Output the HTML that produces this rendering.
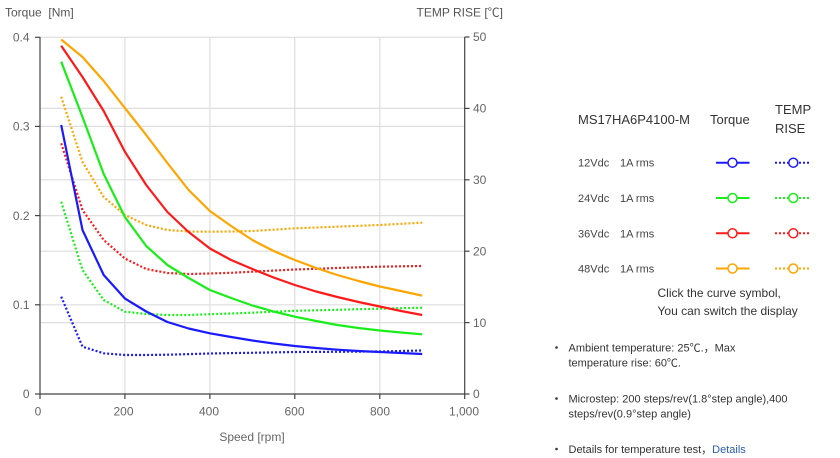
<!DOCTYPE html>
<html><head><meta charset="utf-8">
<style>
html,body{margin:0;padding:0;background:#fff;}
svg{display:block;}
text{font-family:"Liberation Sans","Noto Sans CJK SC",sans-serif;}
</style></head>
<body>
<svg width="840" height="458" viewBox="0 0 840 458" xmlns="http://www.w3.org/2000/svg">
<rect width="840" height="458" fill="#fff"/>
<!-- grid -->
<g stroke="#dedede" stroke-width="1.2" fill="none">
<line x1="40" y1="304.8" x2="464.7" y2="304.8"/>
<line x1="40" y1="215.6" x2="464.7" y2="215.6"/>
<line x1="40" y1="126.4" x2="464.7" y2="126.4"/>
<line x1="40" y1="37.3" x2="464.7" y2="37.3"/>
<line x1="40" y1="322.6" x2="464.7" y2="322.6"/>
<line x1="40" y1="251.2" x2="464.7" y2="251.2"/>
<line x1="40" y1="179.8" x2="464.7" y2="179.8"/>
<line x1="40" y1="108.4" x2="464.7" y2="108.4"/>
<line x1="124.9" y1="37" x2="124.9" y2="394"/>
<line x1="209.9" y1="37" x2="209.9" y2="394"/>
<line x1="294.8" y1="37" x2="294.8" y2="394"/>
<line x1="379.8" y1="37" x2="379.8" y2="394"/>
</g>
<!-- axes -->
<g stroke="#444" stroke-width="1.2" fill="none">
<line x1="40" y1="37" x2="40" y2="394"/>
<line x1="464.7" y1="37" x2="464.7" y2="394"/>
<line x1="40" y1="394" x2="464.7" y2="394"/>
<line x1="35" y1="394" x2="40" y2="394"/>
<line x1="35" y1="304.8" x2="40" y2="304.8"/>
<line x1="35" y1="215.6" x2="40" y2="215.6"/>
<line x1="35" y1="126.4" x2="40" y2="126.4"/>
<line x1="35" y1="37.3" x2="40" y2="37.3"/>
<line x1="464.7" y1="394" x2="469.5" y2="394"/>
<line x1="464.7" y1="322.6" x2="469.5" y2="322.6"/>
<line x1="464.7" y1="251.2" x2="469.5" y2="251.2"/>
<line x1="464.7" y1="179.8" x2="469.5" y2="179.8"/>
<line x1="464.7" y1="108.4" x2="469.5" y2="108.4"/>
<line x1="464.7" y1="37" x2="469.5" y2="37"/>
<line x1="40" y1="394" x2="40" y2="399"/>
<line x1="124.9" y1="394" x2="124.9" y2="399"/>
<line x1="209.9" y1="394" x2="209.9" y2="399"/>
<line x1="294.8" y1="394" x2="294.8" y2="399"/>
<line x1="379.8" y1="394" x2="379.8" y2="399"/>
<line x1="464.7" y1="394" x2="464.7" y2="399"/>
</g>
<!-- tick labels -->
<g font-size="12" fill="#666">
<text x="29.5" y="41.5" text-anchor="end">0.4</text>
<text x="29.5" y="130.6" text-anchor="end">0.3</text>
<text x="29.5" y="219.8" text-anchor="end">0.2</text>
<text x="29.5" y="309" text-anchor="end">0.1</text>
<text x="29.5" y="398.2" text-anchor="end">0</text>
<text x="473" y="41.2">50</text>
<text x="473" y="112.6">40</text>
<text x="473" y="184">30</text>
<text x="473" y="255.4">20</text>
<text x="473" y="326.8">10</text>
<text x="473" y="398.2">0</text>
<text x="38" y="415.5" text-anchor="middle">0</text>
<text x="123.5" y="415.5" text-anchor="middle">200</text>
<text x="209" y="415.5" text-anchor="middle">400</text>
<text x="294.5" y="415.5" text-anchor="middle">600</text>
<text x="380" y="415.5" text-anchor="middle">800</text>
<text x="464" y="415.5" text-anchor="middle">1,000</text>
<text x="252" y="441" text-anchor="middle">Speed [rpm]</text>
<text x="5" y="16.5" fill="#555">Torque&#160;&#160;[Nm]</text>
<text x="503" y="16.5" text-anchor="end" fill="#555">TEMP RISE [℃]</text>
</g>
<!-- series: dotted temp -->
<g fill="none" stroke-width="2.2" stroke-dasharray="2 2" stroke-linejoin="round">
<polyline stroke="#ffa500" points="61.2,96.7 82.5,162 103.7,197 124.9,215 146.2,225 167.4,230 188.6,231.5 209.9,231.7 231.1,231.5 252.4,231 273.6,229.7 294.8,228.3 316.1,227.5 337.3,226.7 358.5,225.8 379.8,225 401,223.8 422.2,222.7"/>
<polyline stroke="#ff1a1a" points="61.2,143.3 82.5,210 103.7,240 124.9,258.5 146.2,269 167.4,273 188.6,274 209.9,273.5 231.1,272.8 252.4,271.7 273.6,270.6 294.8,269.5 316.1,268.8 337.3,268 358.5,267.3 379.8,266.7 401,266.3 422.2,266"/>
<polyline stroke="#1aee1a" points="61.2,201.7 82.5,270 103.7,300 124.9,311.7 146.2,314 167.4,315 188.6,315 209.9,314.2 231.1,313.5 252.4,312.7 273.6,311.7 294.8,310.8 316.1,310.3 337.3,309.8 358.5,309.2 379.8,308.7 401,308.2 422.2,307.7"/>
<polyline stroke="#1a1aff" points="61.2,296.7 82.5,346.7 103.7,353.3 124.9,355 146.2,355 167.4,354.7 188.6,354.1 209.9,353.5 231.1,353.1 252.4,352.8 273.6,352.4 294.8,352 316.1,351.9 337.3,351.8 358.5,351.6 379.8,351.5 401,351 422.2,350.5"/>
</g>
<!-- series: solid torque -->
<g fill="none" stroke-width="2.2" stroke-linejoin="round">
<polyline stroke="#ffa500" points="61.2,39.5 82.5,57 103.7,81 124.9,108 146.2,135 167.4,163 188.6,190 209.9,211 231.1,226 252.4,240 273.6,251 294.8,260 316.1,268 337.3,275 358.5,281 379.8,286.5 401,291 422.2,295.7"/>
<polyline stroke="#ff1a1a" points="61.2,45.7 82.5,77 103.7,111 124.9,151.7 146.2,185 167.4,212 188.6,232 209.9,248.5 231.1,260 252.4,269 273.6,277.5 294.8,285 316.1,291.5 337.3,297 358.5,302 379.8,306.5 401,311 422.2,315"/>
<polyline stroke="#1aee1a" points="61.2,61.7 82.5,117 103.7,174 124.9,217 146.2,246 167.4,265 188.6,278 209.9,290 231.1,298 252.4,305.5 273.6,311.5 294.8,316.7 316.1,321 337.3,325 358.5,328 379.8,330.5 401,332.5 422.2,334.3"/>
<polyline stroke="#1a1aff" points="61.2,125 82.5,230 103.7,275 124.9,298.5 146.2,311.5 167.4,322 188.6,328.5 209.9,333.3 231.1,337 252.4,340.5 273.6,343.5 294.8,346 316.1,348 337.3,349.7 358.5,351 379.8,352 401,353 422.2,354"/>
</g>
<!-- legend -->
<g font-size="13" fill="#333">
<text x="578" y="124">MS17HA6P4100-M</text>
<text x="710" y="124">Torque</text>
<text x="775" y="114">TEMP</text>
<text x="775" y="133">RISE</text>
</g>
<g font-size="11" fill="#444">
<text x="578" y="166.7">12Vdc</text><text x="620" y="166.7">1A rms</text>
<text x="578" y="202">24Vdc</text><text x="620" y="202">1A rms</text>
<text x="578" y="237.3">36Vdc</text><text x="620" y="237.3">1A rms</text>
<text x="578" y="272.5">48Vdc</text><text x="620" y="272.5">1A rms</text>
</g>
<g fill="#fff" stroke-width="2">
<line x1="716" y1="162.7" x2="749.5" y2="162.7" stroke="#1a1aff"/>
<circle cx="732.5" cy="162.7" r="4.5" stroke="#1a1aff" stroke-width="1.5"/>
<line x1="775" y1="162.7" x2="811" y2="162.7" stroke="#1a1aff" stroke-dasharray="2 2"/>
<circle cx="793.3" cy="162.7" r="4.5" stroke="#1a1aff" stroke-width="1.5"/>
<line x1="716" y1="198" x2="749.5" y2="198" stroke="#1aee1a"/>
<circle cx="732.5" cy="198" r="4.5" stroke="#1aee1a" stroke-width="1.5"/>
<line x1="775" y1="198" x2="811" y2="198" stroke="#1aee1a" stroke-dasharray="2 2"/>
<circle cx="793.3" cy="198" r="4.5" stroke="#1aee1a" stroke-width="1.5"/>
<line x1="716" y1="233.3" x2="749.5" y2="233.3" stroke="#ff1a1a"/>
<circle cx="732.5" cy="233.3" r="4.5" stroke="#ff1a1a" stroke-width="1.5"/>
<line x1="775" y1="233.3" x2="811" y2="233.3" stroke="#ff1a1a" stroke-dasharray="2 2"/>
<circle cx="793.3" cy="233.3" r="4.5" stroke="#ff1a1a" stroke-width="1.5"/>
<line x1="716" y1="268.5" x2="749.5" y2="268.5" stroke="#ffa500"/>
<circle cx="732.5" cy="268.5" r="4.5" stroke="#ffa500" stroke-width="1.5"/>
<line x1="775" y1="268.5" x2="811" y2="268.5" stroke="#ffa500" stroke-dasharray="2 2"/>
<circle cx="793.3" cy="268.5" r="4.5" stroke="#ffa500" stroke-width="1.5"/>
</g>
<g font-size="12" fill="#333">
<text x="657.5" y="297">Click the curve symbol,</text>
<text x="657.5" y="315">You can switch the display</text>
</g>
<g font-size="11" fill="#333">
<circle cx="556.5" cy="347.5" r="1.3" fill="#333"/>
<text x="568.5" y="351.3">Ambient temperature: 25℃.，Max</text>
<text x="568.5" y="366.7">temperature rise: 60℃.</text>
<circle cx="556.5" cy="398.5" r="1.3" fill="#333"/>
<text x="568.5" y="402.3">Microstep: 200 steps/rev(1.8°step angle),400</text>
<text x="568.5" y="417.3">steps/rev(0.9°step angle)</text>
<circle cx="556.5" cy="449" r="1.3" fill="#333"/>
<text x="568.5" y="453">Details for temperature test，<tspan fill="#2a5caa">Details</tspan></text>
</g>
</svg>
</body></html>
